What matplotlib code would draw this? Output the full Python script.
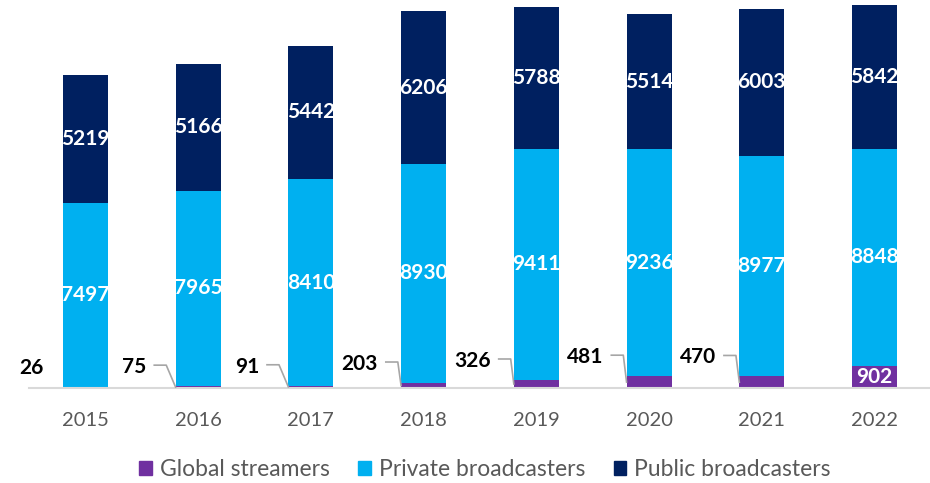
import matplotlib
matplotlib.use("Agg")
import matplotlib.pyplot as plt
from matplotlib.lines import Line2D
from matplotlib.transforms import IdentityTransform
from matplotlib.patches import Patch

years = ["2015", "2016", "2017", "2018", "2019", "2020", "2021", "2022"]
global_streamers = [26, 75, 91, 203, 326, 481, 470, 902]
private_broadcasters = [7497, 7965, 8410, 8930, 9411, 9236, 8977, 8848]
public_broadcasters = [5219, 5166, 5442, 6206, 5788, 5514, 6003, 5842]

C_GLOBAL = "#7030A0"
C_PRIVATE = "#00B0F0"
C_PUBLIC = "#002060"

plt.rcParams['font.family'] = ['Lato', 'DejaVu Sans']

fig = plt.figure(figsize=(9.3, 4.83), dpi=100)
ax = fig.add_axes([29 / 930, 95 / 483, 902 / 930, 388 / 483])

x = list(range(len(years)))
w = 0.4
ax.bar(x, global_streamers, w, color=C_GLOBAL, label="Global streamers")
bottom2 = global_streamers
ax.bar(x, private_broadcasters, w, bottom=bottom2, color=C_PRIVATE, label="Private broadcasters")
bottom3 = [g + p for g, p in zip(global_streamers, private_broadcasters)]
ax.bar(x, public_broadcasters, w, bottom=bottom3, color=C_PUBLIC, label="Public broadcasters")

ax.set_xlim(-0.5, len(years) - 0.5)
ax.set_ylim(0, 15800)
ax.set_yticks([])
for s in ["left", "right", "top"]:
    ax.spines[s].set_visible(False)
ax.spines["bottom"].set_color("#d9d9d9")
ax.spines["bottom"].set_linewidth(1.5)
ax.set_xticks(x)
ax.set_xticklabels(years, fontsize=14.5, color="#595959")
ax.tick_params(axis="x", length=0, pad=17)

fs = 15
# Private / public labels (white, centered)
for i in x:
    ax.text(i, bottom2[i] + private_broadcasters[i] / 2, str(private_broadcasters[i]),
            ha="center", va="center", color="white", fontsize=fs, fontweight="bold")
    ax.text(i, bottom3[i] + public_broadcasters[i] / 2, str(public_broadcasters[i]),
            ha="center", va="center", color="white", fontsize=fs, fontweight="bold")

fig.canvas.draw()
renderer = fig.canvas.get_renderer()
# Global streamer labels
for i in x:
    v = global_streamers[i]
    if i == len(years) - 1:
        ax.text(i, v / 2, str(v), ha="center", va="center", color="white",
                fontsize=fs, fontweight="bold")
        continue
    dx = -54 if i == 0 else -64
    px, py = ax.transData.transform((i, v))
    ly = py + 19
    t = ax.annotate(str(v), xy=(i, v), xytext=(dx, 19), textcoords="offset pixels",
                    ha="center", va="center", color="black", fontsize=fs, fontweight="bold")
    if i == 0:
        continue
    bb = t.get_window_extent(renderer)
    bl, _ = ax.transData.transform((i - w / 2, v / 2))
    _, by = ax.transData.transform((i, v / 2))
    x0 = bb.x1 + 8
    y0 = ly + 2
    line = Line2D([x0, x0 + 12, bl], [y0, y0, by], transform=IdentityTransform(),
                  color="#a6a6a6", lw=1.2)
    fig.add_artist(line)

handles = [Patch(color=C_GLOBAL), Patch(color=C_PRIVATE), Patch(color=C_PUBLIC)]
leg = fig.legend(handles, ["Global streamers", "Private broadcasters", "Public broadcasters"],
                 loc="center", bbox_to_anchor=(485 / 930, 1 - 470 / 483), ncol=3, frameon=False,
                 fontsize=16.5, handlelength=0.55, handleheight=0.55, handletextpad=0.35,
                 columnspacing=1.25)
for t in leg.get_texts():
    t.set_color("#595959")

fig.savefig("out.png", dpi=100)
